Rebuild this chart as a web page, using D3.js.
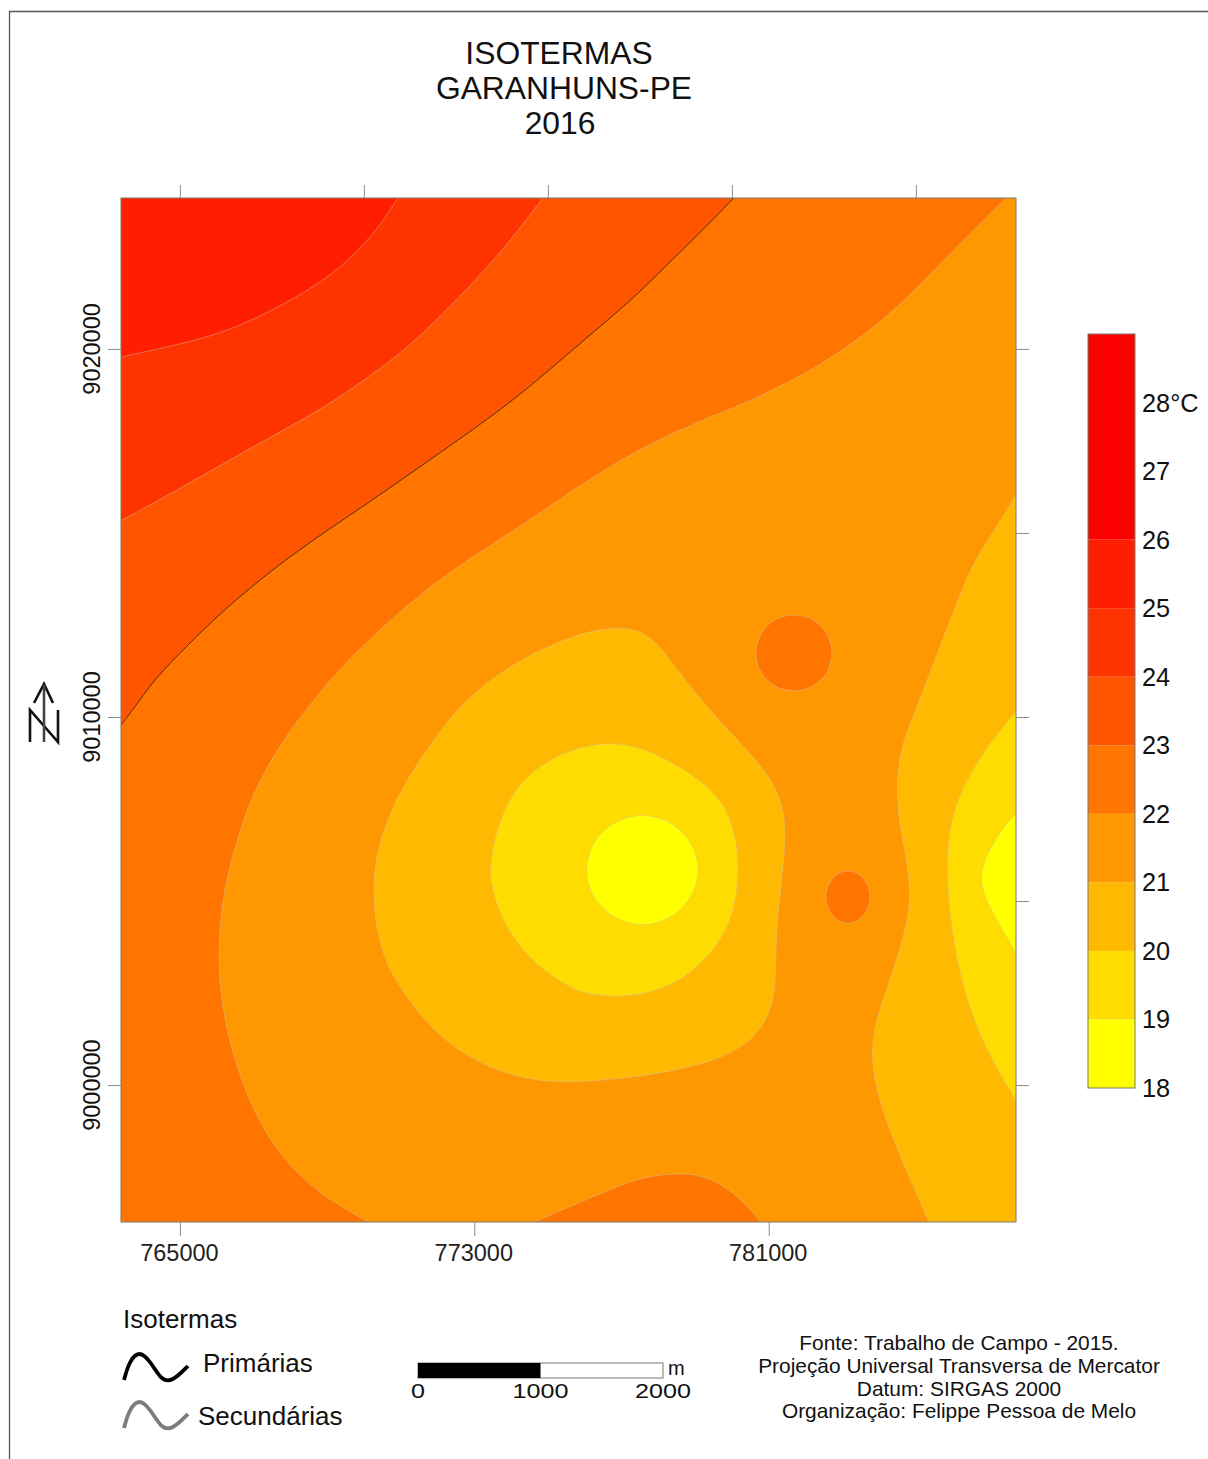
<!DOCTYPE html>
<html>
<head>
<meta charset="utf-8">
<script src="https://cdn.jsdelivr.net/npm/d3@7"></script>
<style>
  body { margin: 0; background: #fff; }
  svg { display: block; }
  text { font-family: "Liberation Sans", Arial, sans-serif; fill: #111; }
</style>
</head>
<body>
<div id="map"></div>
<script>
var width  = 1208;
var height = 1459;

// map window, UTM metres
var eastExtent  = [763400, 787720];
var northExtent = [9024100, 8996280];

var topTicks    = [765000, 770000, 775000, 780000, 785000];
var bottomTicks = [765000, 773000, 781000];
var leftTicks   = [9020000, 9010000, 9000000];
var rightTicks  = [9020000, 9015000, 9010000, 9005000, 9000000];

// temperature classes, coolest first
var legendBreaks = [18, 19, 20, 21, 22, 23, 24, 25, 26, 29];
var legendLabels = ["18", "19", "20", "21", "22", "23", "24", "25", "26", "27", "28°C"];
var legendValues = [18, 19, 20, 21, 22, 23, 24, 25, 26, 27, 28];
var bandColors   = ["#ffff00", "#ffdc00", "#ffb900", "#ff9700", "#ff7500", "#ff5500", "#ff3300", "#ff1f00", "#ff0000"];

var iso25 = [[763400,9019780],[764570,9020030],[766030,9020380],[767280,9020920],[768480,9021580],[769290,9022150],[769920,9022750],[770460,9023370],[770920,9024100]];
var iso24 = [[763400,9015330],[765030,9016220],[767010,9017360],[768830,9018340],[770190,9019270],[771280,9020110],[772170,9020980],[773100,9021930],[774000,9022960],[774860,9024100]];
var iso23 = [[763400,9009780],[763720,9010190],[764290,9011010],[765220,9011960],[766110,9012830],[767010,9013590],[767930,9014320],[769020,9015080],[770190,9015870],[771360,9016680],[772450,9017450],[773530,9018210],[774540,9019000],[775570,9019890],[776470,9020650],[777390,9021440],[778290,9022340],[779190,9023210],[780050,9024100]];
var iso22 = [[787450,9024100],[786900,9023560],[786090,9022750],[785160,9021790],[784270,9020920],[783370,9020220],[782360,9019540],[781360,9019000],[780270,9018480],[779190,9018070],[777940,9017500],[776740,9016850],[775570,9016090],[774270,9015190],[772990,9014380],[772010,9013700],[771090,9012960],[770110,9012070],[769190,9011140],[768420,9010190],[767750,9009290],[767010,9008020],[766580,9006740],[766200,9005380],[766030,9003860],[766110,9002230],[766470,9000680],[767010,8999240],[767750,8998040],[768750,8997060],[770110,8996280]];
var iso22South = [[774620,8996280],[775570,8996690],[776470,8997060],[777390,8997470],[778560,8997640],[779380,8997500],[780110,8997060],[780790,8996280]];
var iso22IslandN = [[780650,9011740],[780790,9012260],[781170,9012640],[781690,9012770],[782200,9012640],[782580,9012260],[782720,9011740],[782580,9011220],[782200,9010840],[781690,9010710],[781170,9010840],[780790,9011220]];
var iso22IslandS = [[782550,9005110],[782640,9005460],[782850,9005720],[783150,9005820],[783450,9005720],[783670,9005460],[783750,9005110],[783670,9004760],[783450,9004500],[783150,9004400],[782850,9004500],[782640,9004760]];
var iso21 = [[775570,9012150],[776200,9012340],[776930,9012450],[777550,9012340],[778020,9011960],[778480,9011330],[779380,9010190],[780110,9009430],[780730,9008750],[781200,9008100],[781500,9007200],[781390,9005840],[781200,9004290],[781200,9002930],[781090,9002040],[780650,9001300],[779840,9000760],[778560,9000410],[777200,9000190],[775570,9000050],[774270,9000160],[772940,9000680],[771960,9001390],[771200,9002310],[770460,9003480],[770220,9005110],[770330,9006390],[770870,9007830],[771740,9009180],[772500,9010190],[773370,9010980],[774460,9011680]];
var iso21East = [[787720,9016030],[787170,9015140],[786520,9014130],[786170,9013230],[785710,9012070],[785000,9010190],[784620,9009290],[784460,9008210],[784540,9007120],[784810,9005840],[784860,9004840],[784620,9003860],[784270,9002770],[783910,9001770],[783780,9000870],[783910,8999860],[784350,8998590],[784890,8997340],[785350,8996280]];
var iso20 = [[775570,9009100],[776580,9009320],[777470,9009210],[778510,9008700],[779430,9008070],[779970,9007340],[780220,9006110],[780080,9004700],[779620,9003800],[778860,9002990],[777960,9002530],[776930,9002390],[776110,9002470],[775570,9002660],[774670,9003260],[773910,9004160],[773450,9005300],[773420,9006110],[773700,9007280],[774240,9008230],[774920,9008750]];
var iso20East = [[787720,9010140],[787070,9009380],[786360,9008290],[785950,9007280],[785820,9005920],[785950,9004290],[786300,9002500],[786900,9000950],[787720,8999590]];
var iso19 = [[776060,9005840],[776260,9006580],[776820,9007120],[777570,9007320],[778320,9007120],[778870,9006580],[779080,9005840],[778870,9005110],[778320,9004570],[777570,9004360],[776820,9004570],[776260,9005110]];
var iso19East = [[787720,9007390],[787170,9006740],[786630,9005650],[787040,9004760],[787720,9003590]];

var titleLines  = ["ISOTERMAS", "GARANHUNS-PE", "2016"];
var titleX      = [559, 564, 560];
var sourceLines = ["Fonte: Trabalho de Campo - 2015.", "Projeção Universal Transversa de Mercator", "Datum: SIRGAS 2000", "Organização: Felippe Pessoa de Melo"];
var scaleStops  = [0, 1000, 2000];

var svg = d3.select("#map").append("svg")
  .attr("width", width)
  .attr("height", height);

// frame round the page
svg.append("path")
  .attr("d", "M9.5,1459V11.5H1208")
  .attr("fill", "none")
  .attr("stroke", "#555")
  .attr("stroke-width", 1.3);

var x = d3.scaleLinear().domain(eastExtent).range([121, 1016]);
var y = d3.scaleLinear().domain(northExtent).range([198, 1222]);

var west = eastExtent[0], east = eastExtent[1];
var north = northExtent[0], south = northExtent[1];

function lineWith(curve) {
  return d3.line().x(function(d) { return x(d[0]) }).y(function(d) { return y(d[1]) }).curve(curve);
}
var openLine  = lineWith(d3.curveBasis);
var loopLine  = lineWith(d3.curveBasisClosed);
var roundLine = lineWith(d3.curveCardinalClosed.tension(0));  // small evenly spaced rings

// an open isotherm is filled by walking back along the map edge
function edgeFill(pts, corners) {
  var tail = corners.map(function(c) { return "L" + x(c[0]) + "," + y(c[1]) }).join("");
  return openLine(pts) + tail + "Z";
}

// painted from the base class inwards
var layers = [
  { d: edgeFill(iso23, [[west, north]]), fill: bandColors[5], line: openLine(iso23), primary: true },
  { d: edgeFill(iso24, [[west, north]]), fill: bandColors[6], line: openLine(iso24) },
  { d: edgeFill(iso25, [[west, north]]), fill: bandColors[7], line: openLine(iso25) },
  { d: edgeFill(iso22, [[east, south], [east, north]]), fill: bandColors[3], line: openLine(iso22) },
  { d: edgeFill(iso22South, []), fill: bandColors[4], line: openLine(iso22South) },
  { d: roundLine(iso22IslandN), fill: bandColors[4], line: roundLine(iso22IslandN) },
  { d: roundLine(iso22IslandS), fill: bandColors[4], line: roundLine(iso22IslandS) },
  { d: loopLine(iso21), fill: bandColors[2], line: loopLine(iso21) },
  { d: edgeFill(iso21East, [[east, south]]), fill: bandColors[2], line: openLine(iso21East) },
  { d: loopLine(iso20), fill: bandColors[1], line: loopLine(iso20) },
  { d: edgeFill(iso20East, []), fill: bandColors[1], line: openLine(iso20East) },
  { d: roundLine(iso19), fill: bandColors[0], line: roundLine(iso19) },
  { d: edgeFill(iso19East, []), fill: bandColors[0], line: openLine(iso19East) }
];

svg.append("clipPath").attr("id", "window")
  .append("rect")
  .attr("x", x(west)).attr("y", y(north))
  .attr("width", x(east) - x(west)).attr("height", y(south) - y(north));

var g = svg.append("g").attr("clip-path", "url(#window)");

g.append("rect")
  .attr("x", x(west)).attr("y", y(north))
  .attr("width", x(east) - x(west)).attr("height", y(south) - y(north))
  .attr("fill", bandColors[4]);

g.selectAll("path.band").data(layers)
  .enter().append("path")
  .attr("class", "band")
  .attr("d", function(d) { return d.d })
  .attr("fill", function(d) { return d.fill });

// isolines on top, primary one is black
g.selectAll("path.isoline").data(layers)
  .enter().append("path")
  .attr("class", "isoline")
  .attr("d", function(d) { return d.line })
  .attr("fill", "none")
  .attr("stroke", function(d) { return d.primary ? "#3a2a20" : "#c8c8b8" })
  .attr("stroke-opacity", function(d) { return d.primary ? 0.9 : 0.5 })
  .attr("stroke-width", function(d) { return d.primary ? 1 : 0.9 });

svg.append("rect")
  .attr("x", x(west)).attr("y", y(north))
  .attr("width", x(east) - x(west)).attr("height", y(south) - y(north))
  .attr("fill", "none")
  .attr("stroke", "#7a7a6a")
  .attr("stroke-width", 1);

// axes
function styleAxis(sel) {
  sel.select(".domain").remove();
  sel.selectAll(".tick line").attr("stroke", "#8a8a8a").attr("stroke-width", 1);
  sel.selectAll("text").attr("font-size", 23.5).attr("font-family", null).attr("dx", -1).style("fill", "#222");
}

svg.append("g")
  .attr("transform", "translate(0," + y(north) + ")")
  .call(d3.axisTop(x).tickValues(topTicks).tickSize(13).tickFormat(""))
  .call(styleAxis);

svg.append("g")
  .attr("transform", "translate(0," + y(south) + ")")
  .call(d3.axisBottom(x).tickValues(bottomTicks).tickSize(14).tickPadding(8).tickFormat(d3.format("d")))
  .call(styleAxis);

svg.append("g")
  .attr("transform", "translate(" + x(east) + ",0)")
  .call(d3.axisRight(y).tickValues(rightTicks).tickSize(13).tickFormat(""))
  .call(styleAxis);

svg.append("g")
  .attr("transform", "translate(" + x(west) + ",0)")
  .call(d3.axisLeft(y).tickValues(leftTicks).tickSize(13).tickFormat(""))
  .call(styleAxis);

svg.selectAll("text.northLabel").data(leftTicks)
  .enter().append("text")
  .attr("class", "northLabel")
  .attr("transform", function(d) { return "translate(100," + y(d) + ") rotate(-90)" })
  .attr("text-anchor", "middle")
  .attr("font-size", 23.5)
  .text(function(d) { return d });

// title
svg.selectAll("text.title").data(titleLines)
  .enter().append("text")
  .attr("class", "title")
  .attr("x", function(d, i) { return titleX[i] })
  .attr("y", function(d, i) { return 64 + i * 35 })
  .attr("text-anchor", "middle")
  .attr("font-size", 31.8)
  .text(function(d) { return d });

// colour bar
var legendY = d3.scaleLinear().domain([18, 29]).range([1088, 334]);
var legend = svg.append("g");

legend.selectAll("rect").data(bandColors)
  .enter().append("rect")
  .attr("x", 1088)
  .attr("width", 47)
  .attr("y", function(d, i) { return legendY(legendBreaks[i + 1]) })
  .attr("height", function(d, i) { return legendY(legendBreaks[i]) - legendY(legendBreaks[i + 1]) })
  .attr("fill", function(d) { return d });

legend.append("rect")
  .attr("x", 1088).attr("y", legendY(29))
  .attr("width", 47).attr("height", legendY(18) - legendY(29))
  .attr("fill", "none")
  .attr("stroke", "#7a7a6a");

legend.selectAll("text").data(legendValues)
  .enter().append("text")
  .attr("x", 1142)
  .attr("y", function(d) { return legendY(d) + 9 })
  .attr("font-size", 25.3)
  .text(function(d, i) { return legendLabels[i] });

// north arrow
var arrow = svg.append("g").attr("fill", "none").attr("stroke", "#111").attr("stroke-width", 2.6);
arrow.append("path").attr("d", "M34,703L44,684L53,703");
arrow.append("path").attr("d", "M30,742V710L58,742V710");
arrow.append("path").attr("d", "M44,685V742").attr("stroke", "#444");

// isoline key
var keyWave = d3.line().curve(d3.curveBasis);
function wave(dy) {
  return keyWave([[124, 1380 + dy], [129, 1362 + dy], [139, 1350 + dy], [151, 1362 + dy], [161, 1380 + dy], [172, 1382 + dy], [188, 1366 + dy]]);
}

svg.append("path").attr("d", wave(0)).attr("fill", "none").attr("stroke", "#000").attr("stroke-width", 3.8);
svg.append("path").attr("d", wave(48)).attr("fill", "none").attr("stroke", "#7c7c7c").attr("stroke-width", 3.8);
svg.append("text").attr("x", 123).attr("y", 1328).attr("font-size", 26).text("Isotermas");
svg.append("text").attr("x", 203).attr("y", 1372).attr("font-size", 26).text("Primárias");
svg.append("text").attr("x", 198).attr("y", 1425).attr("font-size", 26).text("Secundárias");

// scale bar, 2000 m across
var barX = d3.scaleLinear().domain([0, 2000]).range([418, 663]);

svg.append("rect")
  .attr("x", barX(0)).attr("y", 1363)
  .attr("width", barX(2000) - barX(0)).attr("height", 15)
  .attr("fill", "#fff").attr("stroke", "#777");
svg.append("rect")
  .attr("x", barX(0)).attr("y", 1363)
  .attr("width", barX(1000) - barX(0)).attr("height", 15)
  .attr("fill", "#000");

svg.selectAll("text.stop").data(scaleStops)
  .enter().append("text")
  .attr("class", "stop")
  .attr("x", function(d) { return barX(d) })
  .attr("y", 1397.5)
  .attr("text-anchor", "middle")
  .attr("font-size", 20.5)
  .attr("textLength", function(d) { return d ? 56 : 14 })
  .attr("lengthAdjust", "spacingAndGlyphs")
  .text(function(d) { return d });

svg.append("text").attr("x", 668).attr("y", 1374.5).attr("font-size", 20).text("m");

// credits
svg.selectAll("text.source").data(sourceLines)
  .enter().append("text")
  .attr("class", "source")
  .attr("x", 959)
  .attr("y", function(d, i) { return 1350 + i * 22.8 })
  .attr("text-anchor", "middle")
  .attr("font-size", 20.9)
  .text(function(d) { return d });
</script>
</body>
</html>
